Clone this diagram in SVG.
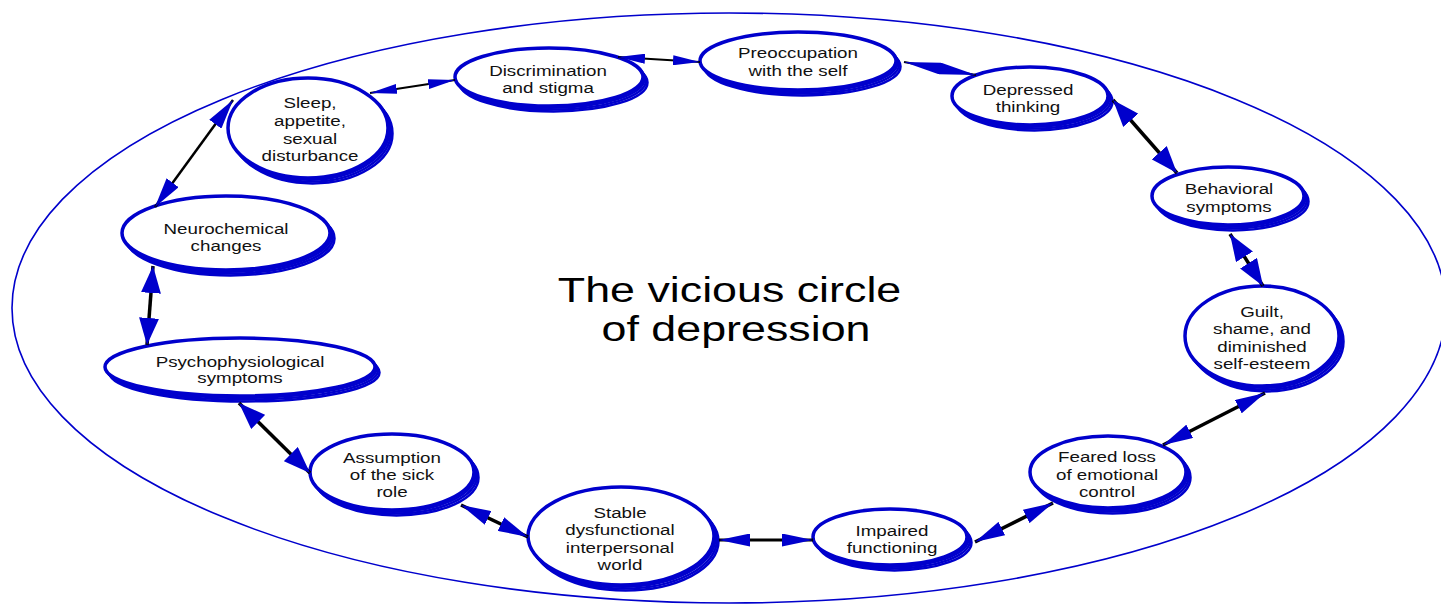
<svg xmlns="http://www.w3.org/2000/svg" width="1441" height="605" viewBox="0 0 1441 605">
<style>
.bg{fill:#fff}
.frame{fill:none;stroke:#0000cc;stroke-width:1.6}
.m{fill:#fff;stroke:#0000cc;stroke-width:3.5}
.s1,.s2,.s3{fill:none;stroke:#0000cc;stroke-width:2.5}
.s1{transform:translate(1.5px,1.8px)}
.s2{transform:translate(3px,3.6px)}
.s3{transform:translate(4.5px,5.4px)}
.t{font-family:"Liberation Sans",Arial,Helvetica,sans-serif;font-size:15.5px;fill:#111;text-anchor:middle}
.title{font-family:"Liberation Sans",Arial,Helvetica,sans-serif;font-size:35px;fill:#000;text-anchor:middle}
.c{fill:none;stroke:#000;stroke-width:3.5;marker-start:url(#a);marker-end:url(#a)}
.c.w{marker-start:url(#w);marker-end:url(#w)}
.c.n{stroke-width:3;marker-start:url(#n);marker-end:url(#n)}
.c.thin{stroke-width:2;marker-start:url(#b);marker-end:url(#b)}
.c.mid{stroke-width:2.5}
.c.long{stroke-width:2;marker-start:url(#l);marker-end:url(#l)}
</style>
<defs>
<marker id="a" viewBox="0 0 30 15" refX="30" refY="7.5" markerWidth="30" markerHeight="15" markerUnits="userSpaceOnUse" orient="auto-start-reverse"><path d="M0,0 L30,7.5 L0,15 z" fill="#0000cc"/></marker>
<marker id="w" viewBox="0 0 27 20" refX="27" refY="10" markerWidth="27" markerHeight="20" markerUnits="userSpaceOnUse" orient="auto-start-reverse"><path d="M0,0 L27,10 L0,20 z" fill="#0000cc"/></marker>
<marker id="n" viewBox="0 0 31 13" refX="31" refY="6.5" markerWidth="31" markerHeight="13" markerUnits="userSpaceOnUse" orient="auto-start-reverse"><path d="M0,0 L31,6.5 L0,13 z" fill="#0000cc"/></marker>
<marker id="b" viewBox="0 0 27 10" refX="27" refY="5" markerWidth="27" markerHeight="10" markerUnits="userSpaceOnUse" orient="auto-start-reverse"><path d="M0,0 L27,5 L0,10 z" fill="#0000cc"/></marker>
<marker id="l" viewBox="0 0 37 12" refX="37" refY="6" markerWidth="37" markerHeight="12" markerUnits="userSpaceOnUse" orient="auto-start-reverse"><path d="M0,0 L37,6 L0,12 z" fill="#0000cc"/></marker>
</defs>
<rect class="bg" x="0" y="0" width="1441" height="605"/>
<ellipse id="frame" class="frame" cx="729" cy="308" rx="717" ry="295"/>

<g id="title">
<text class="title" transform="translate(729.5,0) scale(1.28,1)"><tspan x="0" y="302">The vicious circle</tspan></text>
<text class="title" transform="translate(736,0) scale(1.28,1)"><tspan x="0" y="341">of depression</tspan></text>
</g>

<g id="n-preoccupation">
<ellipse class="s3" cx="798" cy="61" rx="98" ry="29"/><ellipse class="s2" cx="798" cy="61" rx="98" ry="29"/><ellipse class="s1" cx="798" cy="61" rx="98" ry="29"/>
<ellipse class="m" cx="798" cy="61" rx="98" ry="29"/>
<text class="t" transform="translate(798,0) scale(1.21,1)"><tspan x="0" y="58">Preoccupation</tspan><tspan x="0" y="76">with the self</tspan></text>
</g>

<g id="n-depressed">
<ellipse class="s3" cx="1030" cy="96" rx="78" ry="29"/><ellipse class="s2" cx="1030" cy="96" rx="78" ry="29"/><ellipse class="s1" cx="1030" cy="96" rx="78" ry="29"/>
<ellipse class="m" cx="1030" cy="96" rx="78" ry="29"/>
<text class="t" transform="translate(1028,0) scale(1.21,1)"><tspan x="0" y="95">Depressed</tspan><tspan x="0" y="112">thinking</tspan></text>
</g>

<g id="n-behavioral">
<ellipse class="s3" cx="1228" cy="196" rx="76" ry="29"/><ellipse class="s2" cx="1228" cy="196" rx="76" ry="29"/><ellipse class="s1" cx="1228" cy="196" rx="76" ry="29"/>
<ellipse class="m" cx="1228" cy="196" rx="76" ry="29"/>
<text class="t" transform="translate(1229,0) scale(1.21,1)"><tspan x="0" y="194">Behavioral</tspan><tspan x="0" y="212">symptoms</tspan></text>
</g>

<g id="n-guilt">
<ellipse class="s3" cx="1262" cy="336" rx="77" ry="50"/><ellipse class="s2" cx="1262" cy="336" rx="77" ry="50"/><ellipse class="s1" cx="1262" cy="336" rx="77" ry="50"/>
<ellipse class="m" cx="1262" cy="336" rx="77" ry="50"/>
<text class="t" transform="translate(1262,0) scale(1.21,1)"><tspan x="0" y="317">Guilt,</tspan><tspan x="0" y="334.5">shame, and</tspan><tspan x="0" y="352">diminished</tspan><tspan x="0" y="369.5">self-esteem</tspan></text>
</g>

<g id="n-feared">
<ellipse class="s3" cx="1108" cy="472" rx="78" ry="36"/><ellipse class="s2" cx="1108" cy="472" rx="78" ry="36"/><ellipse class="s1" cx="1108" cy="472" rx="78" ry="36"/>
<ellipse class="m" cx="1108" cy="472" rx="78" ry="36"/>
<text class="t" transform="translate(1107,0) scale(1.21,1)"><tspan x="0" y="462">Feared loss</tspan><tspan x="0" y="480">of emotional</tspan><tspan x="0" y="497">control</tspan></text>
</g>

<g id="n-impaired">
<ellipse class="s3" cx="890" cy="537" rx="77" ry="28"/><ellipse class="s2" cx="890" cy="537" rx="77" ry="28"/><ellipse class="s1" cx="890" cy="537" rx="77" ry="28"/>
<ellipse class="m" cx="890" cy="537" rx="77" ry="28"/>
<text class="t" transform="translate(892,0) scale(1.21,1)"><tspan x="0" y="536">Impaired</tspan><tspan x="0" y="553">functioning</tspan></text>
</g>

<g id="n-stable">
<ellipse class="s3" cx="621" cy="536" rx="93" ry="49"/><ellipse class="s2" cx="621" cy="536" rx="93" ry="49"/><ellipse class="s1" cx="621" cy="536" rx="93" ry="49"/>
<ellipse class="m" cx="621" cy="536" rx="93" ry="49"/>
<text class="t" transform="translate(620,0) scale(1.21,1)"><tspan x="0" y="518">Stable</tspan><tspan x="0" y="535.5">dysfunctional</tspan><tspan x="0" y="553">interpersonal</tspan><tspan x="0" y="570.5">world</tspan></text>
</g>

<g id="n-assumption">
<ellipse class="s3" cx="392" cy="472" rx="82" ry="38"/><ellipse class="s2" cx="392" cy="472" rx="82" ry="38"/><ellipse class="s1" cx="392" cy="472" rx="82" ry="38"/>
<ellipse class="m" cx="392" cy="472" rx="82" ry="38"/>
<text class="t" transform="translate(392,0) scale(1.21,1)"><tspan x="0" y="463">Assumption</tspan><tspan x="0" y="480">of the sick</tspan><tspan x="0" y="497">role</tspan></text>
</g>

<g id="n-psycho">
<ellipse class="s3" cx="240" cy="367" rx="135" ry="29"/><ellipse class="s2" cx="240" cy="367" rx="135" ry="29"/><ellipse class="s1" cx="240" cy="367" rx="135" ry="29"/>
<ellipse class="m" cx="240" cy="367" rx="135" ry="29"/>
<text class="t" transform="translate(240,0) scale(1.21,1)"><tspan x="0" y="367">Psychophysiological</tspan><tspan x="0" y="383.5">symptoms</tspan></text>
</g>

<g id="n-neuro">
<ellipse class="s3" cx="226" cy="233" rx="104" ry="37"/><ellipse class="s2" cx="226" cy="233" rx="104" ry="37"/><ellipse class="s1" cx="226" cy="233" rx="104" ry="37"/>
<ellipse class="m" cx="226" cy="233" rx="104" ry="37"/>
<text class="t" transform="translate(226,0) scale(1.21,1)"><tspan x="0" y="234">Neurochemical</tspan><tspan x="0" y="251">changes</tspan></text>
</g>

<g id="n-sleep">
<ellipse class="s3" cx="308" cy="128" rx="80" ry="50"/><ellipse class="s2" cx="308" cy="128" rx="80" ry="50"/><ellipse class="s1" cx="308" cy="128" rx="80" ry="50"/>
<ellipse class="m" cx="308" cy="128" rx="80" ry="50"/>
<text class="t" transform="translate(310,0) scale(1.21,1)"><tspan x="0" y="108">Sleep,</tspan><tspan x="0" y="126">appetite,</tspan><tspan x="0" y="144">sexual</tspan><tspan x="0" y="161">disturbance</tspan></text>
</g>

<g id="n-discrimination">
<ellipse class="s3" cx="549" cy="77" rx="94" ry="29"/><ellipse class="s2" cx="549" cy="77" rx="94" ry="29"/><ellipse class="s1" cx="549" cy="77" rx="94" ry="29"/>
<ellipse class="m" cx="549" cy="77" rx="94" ry="29"/>
<text class="t" transform="translate(548,0) scale(1.21,1)"><tspan x="0" y="76">Discrimination</tspan><tspan x="0" y="93">and stigma</tspan></text>
</g>

<g id="connectors">
<line class="c thin" x1="618" y1="57" x2="700" y2="62"/>
<line class="c thin" x1="370" y1="93" x2="455" y2="80"/>
<line class="c mid" x1="233" y1="100" x2="155" y2="207"/>
<line class="c w" x1="153" y1="266" x2="147" y2="345"/>
<line class="c w" x1="239" y1="403" x2="310" y2="473"/>
<line class="c" x1="461" y1="505" x2="528" y2="537"/>
<line class="c n" x1="719" y1="540" x2="813" y2="540"/>
<line class="c" x1="975" y1="542" x2="1053" y2="503"/>
<line class="c" x1="1163" y1="445" x2="1265" y2="393"/>
<line class="c w" x1="1230" y1="234" x2="1263" y2="286"/>
<line class="c w" x1="1113" y1="100" x2="1177" y2="173"/>
<line class="c long" x1="904" y1="62" x2="976" y2="75"/>
</g>
</svg>
